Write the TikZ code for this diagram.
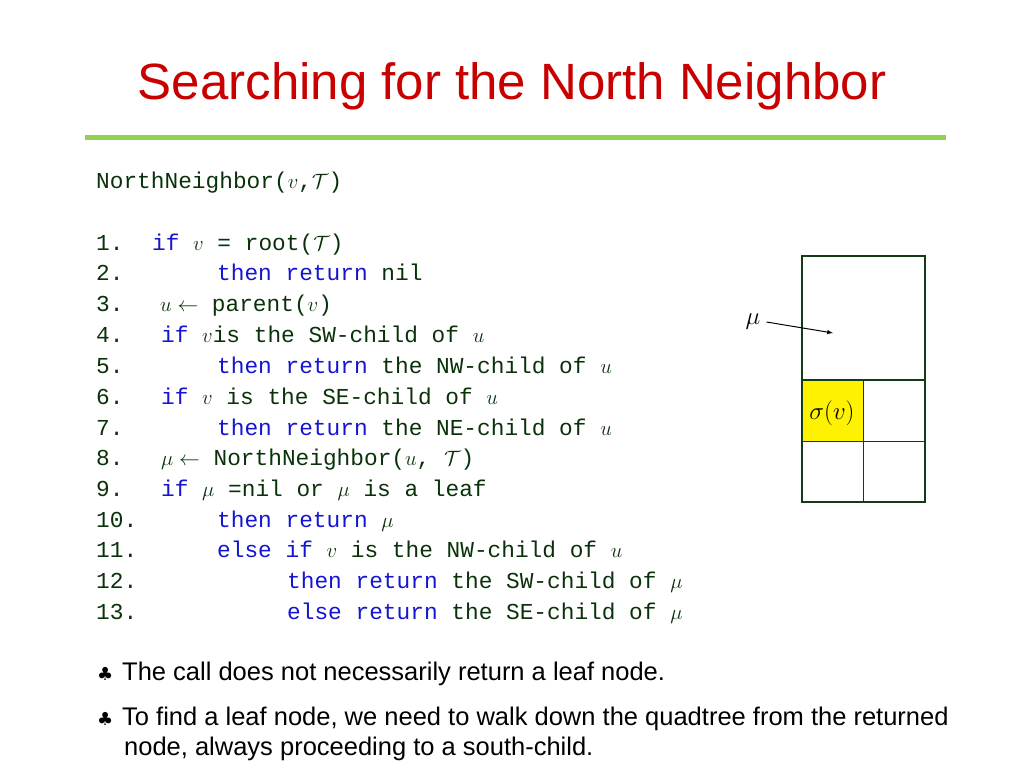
\documentclass[tikz,border=0pt]{standalone}
\usepackage{fontspec}
\setmainfont{Liberation Sans}
\setmonofont{Liberation Mono}
\newfontfamily\symfont{DejaVu Sans}
\usetikzlibrary{positioning}
\definecolor{codegreen}{RGB}{10,50,10}
\definecolor{kwblue}{RGB}{20,20,210}
\definecolor{titlered}{RGB}{200,0,0}
\definecolor{rulegreen}{RGB}{146,208,80}
\definecolor{boxgreen}{RGB}{20,60,20}
\newcommand{\kw}[1]{\textcolor{kwblue}{#1}}

\begin{document}
\begin{tikzpicture}[x=1pt,y=-1pt,
  code/.style={anchor=base west, inner sep=0, font=\ttfamily\fontsize{22.8}{26}\selectfont, text=codegreen},
  bullet/.style={anchor=base west, inner sep=0, font=\fontsize{25.5}{30}\selectfont},
  cell/.style={draw=boxgreen, line width=1pt}]
\useasboundingbox (0,0) rectangle (1024,768);
\node[anchor=base, text=titlered, font=\fontsize{51}{56}\selectfont] (title) at (512,99) {Searching for the North Neighbor};
\draw[rulegreen, line width=5pt] (85,137) -- (946,137);
\node[code] (head) at (96,188) {NorthNeighbor($v$,$\mathcal{T}$)};
% line numbers
\foreach \i/\y in {1/250,2/280,3/311,4/342,5/373,6/404,7/435,8/465,9/496,10/527,11/557,12/588,13/619}
  \node[code] (n\i) at (96,\y) {\i.};
% code lines
\node[code] (l1) at (152,250) {\kw{if} $v$ = root($\mathcal{T}$)};
\node[code] (l2) at (217,280) {\kw{then return} nil};
\node[code] (l3) at (160,311) {$u \leftarrow$ parent($v$)};
\node[code] (l4) at (161,342) {\kw{if} $v$is the SW-child of $u$};
\node[code] (l5) at (217,373) {\kw{then return} the NW-child of $u$};
\node[code] (l6) at (161,404) {\kw{if} $v$ is the SE-child of $u$};
\node[code] (l7) at (217,435) {\kw{then return} the NE-child of $u$};
\node[code] (l8) at (161,465) {$\mu \leftarrow$ NorthNeighbor($u$, $\mathcal{T}$)};
\node[code] (l9) at (161,496) {\kw{if} $\mu$ =nil or $\mu$ is a leaf};
\node[code] (l10) at (217,527) {\kw{then return} $\mu$};
\node[code] (l11) at (217,557) {\kw{else if} $v$ is the NW-child of $u$};
\node[code] (l12) at (287,588) {\kw{then return} the SW-child of $\mu$};
\node[code] (l13) at (287,619) {\kw{else return} the SE-child of $\mu$};
% quadtree cells
\fill[yellow] (802,380) rectangle (863,441);
\draw[cell, line width=0.8pt] (863,380) -- (863,502) (802,441) -- (925,441);
\draw[cell, line width=2.5pt] (802,256) rectangle (925,502);
\draw[cell, line width=2.5pt] (802,380) -- (925,380);
\node[inner sep=0, font=\fontsize{23}{26}\selectfont] (sigma) at (832,413) {$\sigma(v)$};
\node[inner sep=0, font=\fontsize{32}{36}\selectfont] (mu) at (753,322) {$\mu$};
\coordinate (target) at (833,333);
\draw[-latex, line width=1pt] (mu.east) ++(6,0) -- (target);
% remarks
\node[bullet] (b1) at (97,680) {{\symfont\fontsize{18}{20}\selectfont ♣}};
\node[bullet] (t1) at (122,680) {The call does not necessarily return a leaf node.};
\node[bullet] (b2) at (97,725) {{\symfont\fontsize{18}{20}\selectfont ♣}};
\node[bullet] (t2) at (122,725) {To find a leaf node, we need to walk down the quadtree from the returned};
\node[bullet] (t3) at (124,755) {node, always proceeding to a south-child.};
\end{tikzpicture}
\end{document}
